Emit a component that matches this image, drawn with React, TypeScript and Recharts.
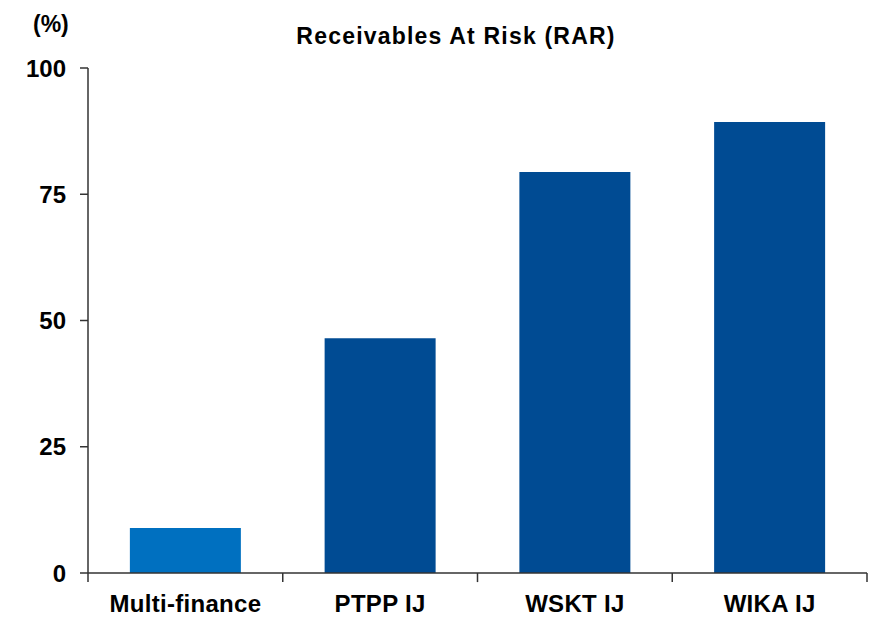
import React from "react";
import { BarChart, Bar, XAxis, YAxis, Cell, ReferenceLine } from "recharts";

const categories = ["Multi-finance", "PTPP IJ", "WSKT IJ", "WIKA IJ"];
const rarValues = [8.9, 46.5, 79.4, 89.3];
const yTicks = [0, 25, 50, 75, 100];
const edgeTicks = [0, 1, 2, 3, 4];
const barColors = ["#0070C0", "#004B93", "#004B93", "#004B93"];

const data = categories.map((c, i) => ({ name: c, value: rarValues[i], idx: i + 0.5 }));

const FONT = "'Liberation Sans', Arial, sans-serif";

export default function App() {
  return (
    <div style={{ position: "absolute", left: 0, top: 0, width: 877, height: 624, background: "#fff", fontFamily: FONT }}>
      <div style={{ position: "absolute", left: 0, top: 22, width: 912, textAlign: "center", fontSize: 23, fontWeight: "bold", lineHeight: "28px", letterSpacing: 1.2, color: "#000" }}>
        Receivables At Risk (RAR)
      </div>
      <div style={{ position: "absolute", left: 33, top: 10, fontSize: 23, fontWeight: "bold", lineHeight: "28px", color: "#000" }}>
        (%)
      </div>
      <BarChart
        width={877}
        height={624}
        data={data}
        margin={{ top: 68, right: 10, bottom: 0, left: 0 }}
        barCategoryGap="21.5%"
      >
        <XAxis
          xAxisId="cat"
          dataKey="name"
          height={51}
          axisLine={{ stroke: "#333", strokeWidth: 1.5 }}
          tickLine={false}
          tickSize={9}
          tick={{ fill: "#000", fontSize: 24, fontWeight: "bold", fontFamily: FONT, dy: 11, letterSpacing: 0.3 }}
          interval={0}
        />
        <XAxis
          xAxisId="edges"
          dataKey="idx"
          type="number"
          domain={[0, 4]}
          ticks={edgeTicks}
          hide
        />
        <YAxis
          width={88}
          domain={[0, 100]}
          ticks={yTicks}
          allowDataOverflow
          axisLine={{ stroke: "#333", strokeWidth: 1.5 }}
          tickLine={{ stroke: "#333", strokeWidth: 1.5 }}
          tickSize={8}
          tickMargin={14}
          tick={{ fill: "#000", fontSize: 24, fontWeight: "bold", fontFamily: FONT }}
        />
        <Bar dataKey="value" xAxisId="cat" isAnimationActive={false}>
          {data.map((d, i) => (
            <Cell key={d.name} fill={barColors[i]} />
          ))}
        </Bar>
        {edgeTicks.map((t) => (
          <ReferenceLine
            key={t}
            xAxisId="edges"
            segment={[{ x: t, y: 0 }, { x: t, y: -1.8 }]}
            ifOverflow="visible"
            stroke="#333"
            strokeWidth={1.5}
          />
        ))}
      </BarChart>
    </div>
  );
}
